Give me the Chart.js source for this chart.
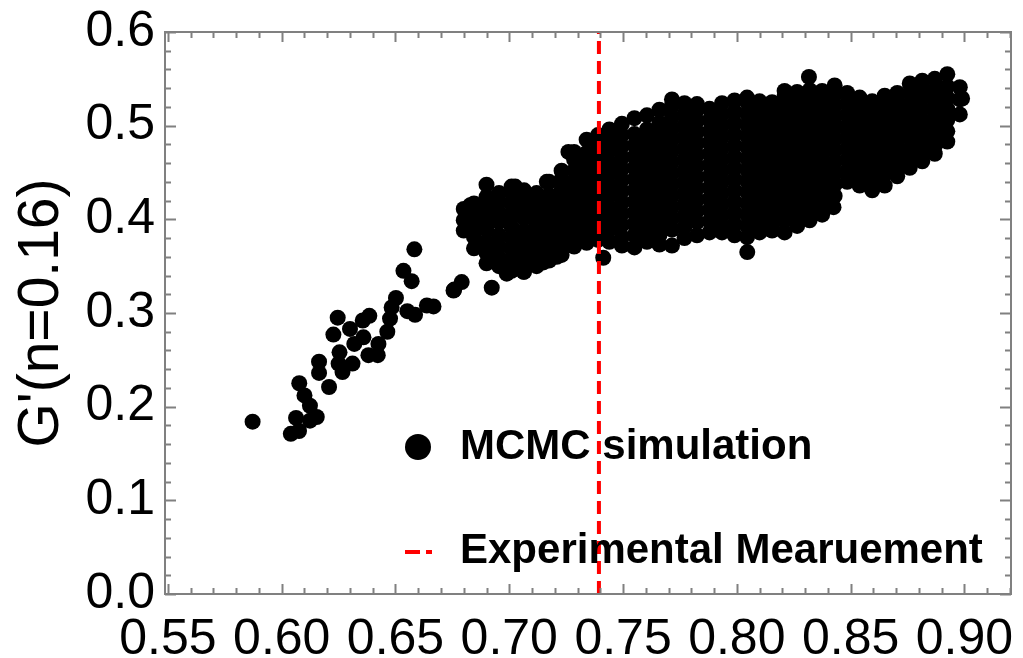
<!DOCTYPE html>
<html>
<head>
<meta charset="utf-8">
<script src="https://cdn.jsdelivr.net/npm/chart.js@4/dist/chart.umd.min.js"></script>
<style>
  body { margin: 0; background: #fff; }
  #wrap { width: 1023px; height: 658px; }
</style>
</head>
<body>
<div id="wrap"><canvas id="mcmc"></canvas></div>
<script>
// tick labels
var xTicks = [0.55, 0.60, 0.65, 0.70, 0.75, 0.80, 0.85, 0.90];
var yTicks = [0.0, 0.1, 0.2, 0.3, 0.4, 0.5, 0.6];

// experimental measurement (vertical dashed line)
var expValue = 0.7394;

// sparse lower-left tail of the MCMC cloud, [x, y]
var tailPoints = [
  [0.5872, 0.184], [0.6040, 0.171], [0.6076, 0.174], [0.6063, 0.188], [0.6100, 0.212],
  [0.6077, 0.225], [0.6124, 0.201], [0.6154, 0.189], [0.6124, 0.185], [0.6164, 0.236],
  [0.6164, 0.248], [0.6208, 0.221], [0.6227, 0.277], [0.6246, 0.295], [0.6254, 0.258],
  [0.6250, 0.246], [0.6267, 0.237], [0.6311, 0.246], [0.6300, 0.283], [0.6319, 0.267],
  [0.6359, 0.274], [0.6356, 0.292], [0.6385, 0.297], [0.6381, 0.255], [0.6422, 0.255],
  [0.6425, 0.267], [0.6464, 0.280], [0.6476, 0.294], [0.6483, 0.306], [0.6502, 0.316],
  [0.6535, 0.345], [0.6571, 0.334], [0.6583, 0.368], [0.6552, 0.302], [0.6586, 0.298],
  [0.6638, 0.308], [0.6667, 0.307], [0.6758, 0.325], [0.6791, 0.333], [0.6923, 0.327],
  [0.6755, 0.324], [0.6989, 0.342], [0.7063, 0.344], [0.7150, 0.354], [0.7209, 0.360],
  [0.7413, 0.359], [0.7260, 0.472], [0.7165, 0.440], [0.7026, 0.435], [0.6828, 0.415],
  [0.8317, 0.552], [0.8046, 0.365], [0.8425, 0.413], [0.8990, 0.529]
];

// dense part of the cloud, read column by column: x of each column and its y values
var cloudX = [
  0.680, 0.6845, 0.690, 0.6955, 0.701, 0.7065, 0.712, 0.7175, 0.723, 0.7285, 0.734, 0.739,
  0.744, 0.7495, 0.755, 0.7605, 0.766, 0.7715, 0.777, 0.7825, 0.788, 0.7935, 0.799, 0.8045,
  0.810, 0.8155, 0.821, 0.8265, 0.832, 0.8375, 0.843, 0.8485, 0.854, 0.8595, 0.865, 0.8705,
  0.876, 0.8815, 0.887, 0.8925, 0.898
];
var cloudY = [
  [0.388, 0.399, 0.411],
  [0.369, 0.381, 0.393, 0.405, 0.417],
  [0.353, 0.364, 0.376, 0.389, 0.400, 0.412, 0.424, 0.437],
  [0.350, 0.359, 0.371, 0.383, 0.397, 0.407, 0.419, 0.428],
  [0.345, 0.356, 0.368, 0.380, 0.392, 0.404, 0.416, 0.428, 0.435],
  [0.344, 0.352, 0.364, 0.376, 0.388, 0.401, 0.412, 0.424, 0.431],
  [0.350, 0.360, 0.372, 0.384, 0.396, 0.408, 0.420, 0.428],
  [0.356, 0.366, 0.378, 0.390, 0.402, 0.414, 0.426, 0.440],
  [0.362, 0.372, 0.384, 0.396, 0.408, 0.420, 0.432, 0.443, 0.452],
  [0.371, 0.380, 0.392, 0.404, 0.416, 0.428, 0.440, 0.452, 0.464, 0.472],
  [0.375, 0.387, 0.399, 0.411, 0.423, 0.435, 0.447, 0.459, 0.471, 0.485],
  [0.378, 0.384, 0.396, 0.408, 0.420, 0.432, 0.444, 0.456, 0.468, 0.480, 0.490],
  [0.376, 0.389, 0.401, 0.412, 0.425, 0.436, 0.449, 0.460, 0.473, 0.485, 0.496],
  [0.372, 0.381, 0.394, 0.406, 0.418, 0.430, 0.442, 0.454, 0.466, 0.478, 0.490, 0.502],
  [0.370, 0.383, 0.395, 0.407, 0.419, 0.431, 0.443, 0.455, 0.467, 0.479, 0.491, 0.508],
  [0.376, 0.388, 0.400, 0.412, 0.424, 0.436, 0.448, 0.460, 0.472, 0.484, 0.496, 0.511],
  [0.373, 0.383, 0.395, 0.407, 0.419, 0.431, 0.443, 0.455, 0.467, 0.479, 0.491, 0.503, 0.517],
  [0.372, 0.389, 0.401, 0.413, 0.425, 0.437, 0.449, 0.461, 0.473, 0.485, 0.497, 0.509, 0.521, 0.528],
  [0.380, 0.392, 0.404, 0.416, 0.428, 0.440, 0.452, 0.464, 0.476, 0.488, 0.500, 0.512, 0.524],
  [0.383, 0.397, 0.409, 0.421, 0.433, 0.445, 0.457, 0.469, 0.481, 0.493, 0.505, 0.517, 0.523],
  [0.386, 0.398, 0.410, 0.422, 0.434, 0.446, 0.458, 0.470, 0.482, 0.494, 0.506, 0.518],
  [0.386, 0.392, 0.404, 0.416, 0.428, 0.440, 0.452, 0.464, 0.476, 0.488, 0.500, 0.512, 0.524],
  [0.383, 0.395, 0.407, 0.419, 0.431, 0.443, 0.455, 0.467, 0.479, 0.491, 0.503, 0.515, 0.527],
  [0.381, 0.393, 0.405, 0.417, 0.429, 0.441, 0.453, 0.465, 0.477, 0.489, 0.501, 0.513, 0.525, 0.530],
  [0.386, 0.398, 0.410, 0.422, 0.434, 0.446, 0.458, 0.470, 0.482, 0.494, 0.506, 0.518, 0.526],
  [0.388, 0.393, 0.405, 0.417, 0.429, 0.441, 0.453, 0.465, 0.477, 0.489, 0.501, 0.513, 0.525],
  [0.386, 0.399, 0.411, 0.423, 0.435, 0.447, 0.459, 0.471, 0.483, 0.495, 0.507, 0.519, 0.531, 0.537],
  [0.393, 0.405, 0.417, 0.429, 0.441, 0.453, 0.465, 0.477, 0.489, 0.501, 0.513, 0.525, 0.536],
  [0.399, 0.411, 0.423, 0.435, 0.447, 0.459, 0.471, 0.483, 0.495, 0.507, 0.519, 0.531, 0.538],
  [0.405, 0.417, 0.429, 0.441, 0.453, 0.465, 0.477, 0.489, 0.501, 0.513, 0.525, 0.537],
  [0.425, 0.437, 0.449, 0.461, 0.473, 0.485, 0.497, 0.509, 0.521, 0.533, 0.543],
  [0.440, 0.452, 0.464, 0.476, 0.488, 0.500, 0.512, 0.524, 0.535],
  [0.436, 0.446, 0.458, 0.470, 0.482, 0.494, 0.506, 0.518, 0.530],
  [0.431, 0.442, 0.454, 0.466, 0.478, 0.490, 0.502, 0.514, 0.526],
  [0.436, 0.448, 0.460, 0.472, 0.484, 0.496, 0.508, 0.520, 0.532],
  [0.446, 0.455, 0.467, 0.479, 0.491, 0.503, 0.515, 0.527, 0.535],
  [0.455, 0.463, 0.475, 0.487, 0.499, 0.511, 0.523, 0.535, 0.545],
  [0.462, 0.470, 0.482, 0.494, 0.506, 0.518, 0.530, 0.542, 0.548],
  [0.470, 0.478, 0.490, 0.502, 0.514, 0.526, 0.538, 0.550],
  [0.483, 0.494, 0.506, 0.518, 0.530, 0.542, 0.555],
  [0.512, 0.528, 0.541]
];

var legendLabels = ['MCMC simulation', 'Experimental Mearuement'];

var simData = tailPoints.map(function (p) { return { x: p[0], y: p[1] }; });
cloudX.forEach(function (cx, i) {
  cloudY[i].forEach(function (cy) { simData.push({ x: cx, y: cy }); });
});

var FONT = "'Liberation Sans', Arial, sans-serif";

// Mathematica-style frame with inward ticks on all four sides + in-plot legend
var framePlugin = {
  id: 'frame',
  afterDraw: function (chart) {
    var ctx = chart.ctx, a = chart.chartArea;
    var xs = chart.scales.x, ys = chart.scales.y;
    ctx.save();
    ctx.strokeStyle = '#808080';
    ctx.lineWidth = 2;
    ctx.strokeRect(a.left, a.top, a.right - a.left, a.bottom - a.top);
    ctx.beginPath();
    for (var i = 55; i <= 92; i++) {
      var px = Math.round(xs.getPixelForValue(i / 100)) + 0.5;
      var len = (i % 5 === 0) ? 10 : 6;
      ctx.moveTo(px, a.bottom); ctx.lineTo(px, a.bottom - len);
      ctx.moveTo(px, a.top); ctx.lineTo(px, a.top + len);
    }
    for (var j = 0; j <= 30; j++) {
      var py = Math.round(ys.getPixelForValue(j / 50)) + 0.5;
      var ln = (j % 5 === 0) ? 11 : 6;
      ctx.moveTo(a.left, py); ctx.lineTo(a.left + ln, py);
      ctx.moveTo(a.right, py); ctx.lineTo(a.right - ln, py);
    }
    ctx.stroke();

    // legend
    ctx.fillStyle = '#000';
    ctx.beginPath();
    ctx.arc(418, 447, 13, 0, Math.PI * 2);
    ctx.fill();
    ctx.strokeStyle = '#ff0000';
    ctx.lineWidth = 4;
    ctx.beginPath();
    ctx.moveTo(405, 552); ctx.lineTo(420, 552);
    ctx.moveTo(426, 552); ctx.lineTo(432, 552);
    ctx.stroke();
    ctx.font = 'bold 42px ' + FONT;
    ctx.textBaseline = 'alphabetic';
    ctx.textAlign = 'left';
    ctx.fillText(legendLabels[0], 460, 459);
    ctx.fillText(legendLabels[1], 460, 563);
    ctx.restore();
  }
};

var ctx = document.getElementById('mcmc').getContext('2d');
var chart = new Chart(ctx, {
  type: 'scatter',
  data: {
    datasets: [{
      type: 'line',
      label: legendLabels[1],
      data: [{ x: expValue, y: 0 }, { x: expValue, y: 0.6 }],
      borderColor: '#ff0000',
      borderWidth: 4,
      borderDash: [13, 7],
      pointRadius: 0,
      fill: false,
      order: 0
    }, {
      label: legendLabels[0],
      data: simData,
      backgroundColor: '#000',
      borderWidth: 0,
      pointRadius: 8,
      order: 1
    }]
  },
  options: {
    responsive: true,
    maintainAspectRatio: false,
    animation: false,
    events: [],
    layout: { padding: { top: 32, right: 12, left: 0, bottom: 0 } },
    plugins: {
      legend: { display: false },
      tooltip: { enabled: false }
    },
    scales: {
      x: {
        type: 'linear',
        min: 0.5487,
        max: 0.9205,
        afterBuildTicks: function (s) { s.ticks = xTicks.map(function (v) { return { value: v }; }); },
        afterFit: function (s) { s.height = 64; s.paddingLeft = 0; s.paddingRight = 0; },
        grid: { display: false, drawTicks: false },
        border: { display: false },
        ticks: {
          autoSkip: false,
          maxRotation: 0,
          padding: 16,
          color: '#000',
          font: { family: FONT, size: 50 },
          callback: function (v) { return Number(v).toFixed(2); }
        }
      },
      y: {
        min: 0,
        max: 0.6,
        afterBuildTicks: function (s) { s.ticks = yTicks.map(function (v) { return { value: v }; }); },
        afterFit: function (s) { s.width = 165; s.paddingTop = 0; s.paddingBottom = 0; },
        grid: { display: false, drawTicks: false },
        border: { display: false },
        title: {
          display: true,
          text: "G'(n=0.16)",
          color: '#000',
          font: { family: FONT, size: 57 },
          padding: { top: 8, bottom: 0 }
        },
        ticks: {
          padding: 10,
          color: '#000',
          font: { family: FONT, size: 50 },
          callback: function (v) { return Number(v).toFixed(1); }
        }
      }
    }
  },
  plugins: [framePlugin]
});
</script>
</body>
</html>
